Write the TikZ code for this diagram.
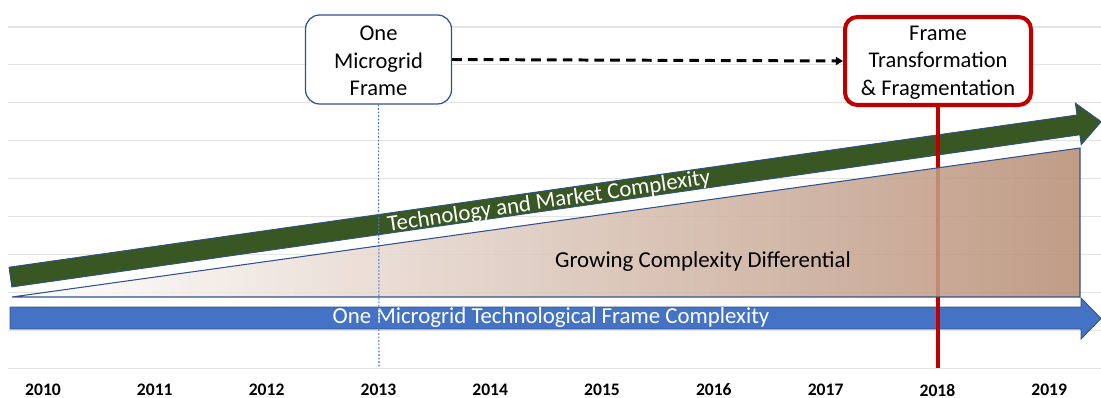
\documentclass[tikz,border=0pt]{standalone}
\usepackage{fontspec}
\setmainfont{Carlito}
\usetikzlibrary{arrows.meta}
\definecolor{techgreen}{HTML}{385723}
\definecolor{frameblue}{HTML}{4472C4}
\definecolor{edgeblue}{HTML}{2F528F}
\definecolor{diffbrown}{HTML}{B88F76}
\definecolor{alertred}{HTML}{C00000}
\tikzset{
  framebox/.style={draw=edgeblue, line width=0.7pt, fill=white, rounded corners=8pt,
    align=center, minimum width=2.92cm, minimum height=1.78cm, inner sep=0pt,
    text height=41pt, font=\fontsize{12.8}{15.6}\selectfont},
  alertbox/.style={framebox, draw=alertred, line width=2.3pt, rounded corners=7pt,
    minimum width=3.72cm, minimum height=1.76cm},
  yearlabel/.style={font=\fontsize{10}{12}\selectfont\bfseries},
  arrowlabel/.style={text=white, font=\fontsize{13}{15}\selectfont},
  shiftlink/.style={black, line width=1.7pt, dash pattern=on 5.5pt off 3.5pt,
    -{Triangle[length=4pt, width=4.5pt]}},
}

\begin{document}
\begin{tikzpicture}[x=0.02cm, y=-0.02cm]
	\useasboundingbox (0, 0) rectangle (1101, 398);

	% grid lines
	\foreach \k in {0,...,9}
		\draw[gray!22, line width=0.6pt] (8, 27+37.9*\k) -- (1101, 27+37.9*\k);

	% frame boxes
	\node[framebox] (frameone) at (378.5, 59.5) {One\\Microgrid\\Frame};
	\node[alertbox] (frametrans) at (938, 61) {Frame\\Transformation\\\& Fragmentation};
	\coordinate (oneyear) at (379, 368);
	\coordinate (transyear) at (938, 368);

	% one microgrid frame complexity
	\draw[fill=frameblue, draw=edgeblue, line width=0.5pt]
		(10, 307) -- (1081, 307) -- (1081, 298) -- (1101, 318.5) -- (1081, 339)
		-- (1081, 329) -- (10, 329) -- cycle;

	% technology and market complexity
	\draw[fill=techgreen, draw=edgeblue, line width=0.5pt]
		(9, 267.2) -- (1077, 115) -- (1075.3, 103.1) -- (1101.2, 121.7)
		-- (1081.2, 144.7) -- (1079.8, 134.8) -- (11.8, 287) -- cycle;

	% frame change marker
	\draw[alertred, line width=2.8pt] (frametrans.south) -- (transyear);

	% complexity differential
	\shade[left color=white, right color=diffbrown, fill opacity=0.88]
		(12, 297) -- (1080, 148) -- (1080, 297) -- cycle;
	\draw[edgeblue, line width=0.6pt] (12, 297) -- (1080, 148) -- (1080, 297) -- cycle;

	% labels
	\node[arrowlabel] (onelabel) at (551, 318) {One Microgrid Technological Frame Complexity};
	\node[arrowlabel, rotate=8.4] (techlabel) at (549, 202) {Technology and Market Complexity};
	\node[font=\fontsize{13}{15}\selectfont] (difflabel) at (703, 262) {Growing Complexity Differential};

	% links
	\draw[shiftlink] (frameone.east) -- (frametrans.west);
	\draw[frameblue, line width=0.6pt, dash pattern=on 1pt off 1pt] (frameone.south) -- (oneyear);

	% years
	\foreach \yr [count=\k from 0] in {2010,...,2019}
		\node[yearlabel] (y\yr) at (43+111.8*\k, 390) {\yr};
\end{tikzpicture}
\end{document}
